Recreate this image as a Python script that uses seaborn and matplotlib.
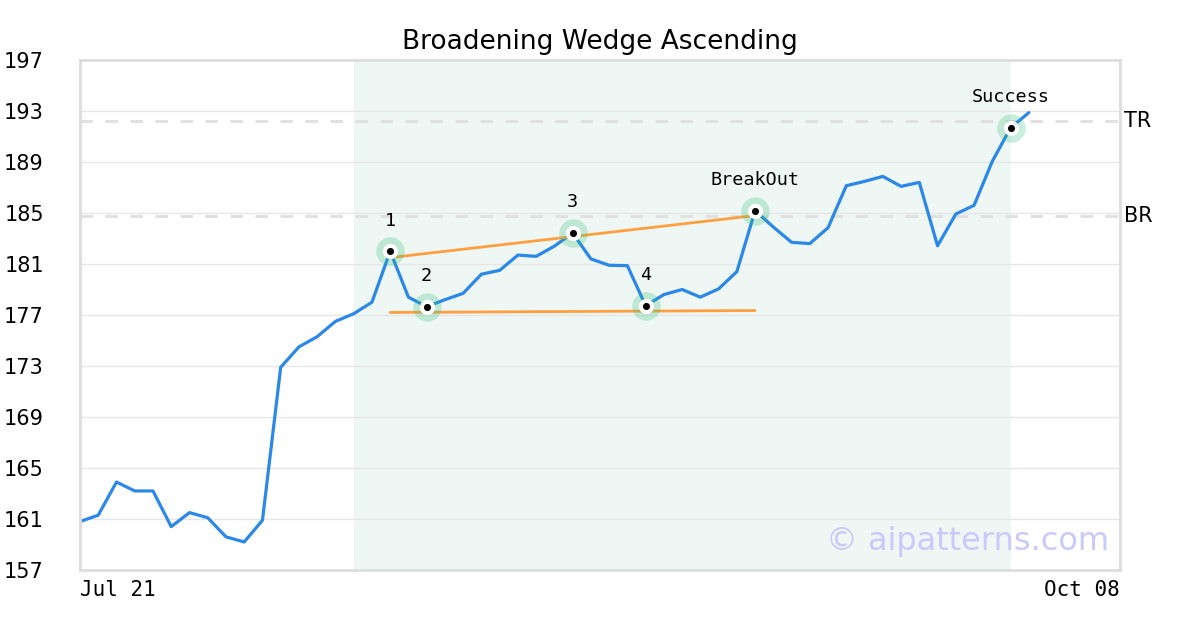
"""Broadening Wedge Ascending - recreación del gráfico de patrón."""

import matplotlib
matplotlib.use("Agg")
import matplotlib.pyplot as plt
import matplotlib.transforms as mtransforms
import numpy as np
import pandas as pd
import seaborn as sns

# precio de cierre por sesión (índice 0 = Jul 21)
prices = [
    160.8, 161.3, 163.9, 163.2, 163.2, 160.4, 161.5, 161.1, 159.6, 159.2,
    160.9, 172.9, 174.5, 175.3, 176.5, 177.1, 178.0, 182.0, 178.4, 177.65,
    178.2, 178.7, 180.2, 180.5, 181.7, 181.6, 182.4, 183.43, 181.4, 180.9,
    180.87, 177.73, 178.6, 179.0, 178.4, 179.05, 180.4, 185.18, 183.9, 182.7,
    182.6, 183.85, 187.14, 187.48, 187.87, 187.09, 187.4, 182.43, 184.92, 185.6,
    189.05, 191.67, 192.87,
]
n_slots = 58  # el eje llega hasta Oct 08
x_labels = ["Jul 21", "Oct 08"]
y_ticks = list(range(157, 198, 4))

pattern_span = (15, 51)
pivot_idx = [17, 19, 27, 31]
pivot_names = ["1", "2", "3", "4"]
breakout_idx = 37
success_idx = 51

upper_line = ([17, 37], [181.5, 184.8])
lower_line = ([17, 37], [177.2, 177.35])

tr_level = 192.24
br_level = 184.76

df = pd.DataFrame({"idx": np.arange(len(prices)), "price": prices})

sns.set_style("white")
plt.rcParams["font.family"] = ["DejaVu Sans"]
plt.rcParams["text.color"] = "black"
plt.rcParams["xtick.color"] = "black"
plt.rcParams["ytick.color"] = "black"

fig = plt.figure(figsize=(12, 6.3), dpi=100)
ax = fig.add_axes([80 / 1200, 60 / 630, 1040 / 1200, 510 / 630])

ax.axvspan(*pattern_span, color="#eef7f3", lw=0, zorder=0)
for y in y_ticks:
    ax.axhline(y, color="#e6e6e6", lw=1, zorder=0.5)
for lvl in (tr_level, br_level):
    ax.axhline(lvl, color="#dfdfdf", lw=2, ls=(0, (4.5, 4.5)), zorder=0.6)

sns.lineplot(data=df, x="idx", y="price", ax=ax, color="#2b87e8", lw=2.3, zorder=2)
ax.plot(*upper_line, color="#ff9f40", lw=2, zorder=3)
ax.plot(*lower_line, color="#ff9f40", lw=2, zorder=3)

marks = pivot_idx + [breakout_idx, success_idx]
names = pivot_names + ["BreakOut", "Success"]
mx = np.array(marks)
my = np.array([prices[i] for i in marks])
ax.scatter(mx, my, s=420, color="#2ebd7a", alpha=0.25, lw=0, zorder=4)
ax.scatter(mx, my, s=120, color="white", lw=0, zorder=5)
ax.scatter(mx, my, s=26, color="black", lw=0, zorder=6)
for x, y, name in zip(mx, my, names):
    ax.annotate(name, (x, y), xytext=(0, 22), textcoords="offset points",
                ha="center", va="center", fontsize=13.3, family="DejaVu Sans Mono")

trans = mtransforms.blended_transform_factory(ax.transAxes, ax.transData)
ax.text(1.004, tr_level, "TR", transform=trans, ha="left", va="center", fontsize=15)
ax.text(1.004, br_level, "BR", transform=trans, ha="left", va="center", fontsize=15)

ax.text(0.99, 0.055, "© aipatterns.com", transform=ax.transAxes, ha="right",
        va="center", fontsize=23, color="#c9c9fb", zorder=7)

ax.set_xlim(0, n_slots - 1)
ax.set_ylim(157, 197)
ax.set_yticks(y_ticks)
ax.set_xticks([0, n_slots - 1])
ax.set_xticklabels(x_labels, family="DejaVu Sans Mono", fontsize=15)
xt = ax.get_xticklabels()
xt[0].set_ha("left")
xt[1].set_ha("right")
ax.tick_params(axis="x", length=0, pad=7)
ax.tick_params(axis="y", length=0, pad=26, labelsize=15)
ax.set_xlabel("")
ax.set_ylabel("")
for sp in ax.spines.values():
    sp.set_color("#dddddd")
    sp.set_linewidth(2)

ax.set_title("Broadening Wedge Ascending", fontsize=19, pad=8, color="black")

fig.savefig("out.png", dpi=100)
plt.close(fig)
